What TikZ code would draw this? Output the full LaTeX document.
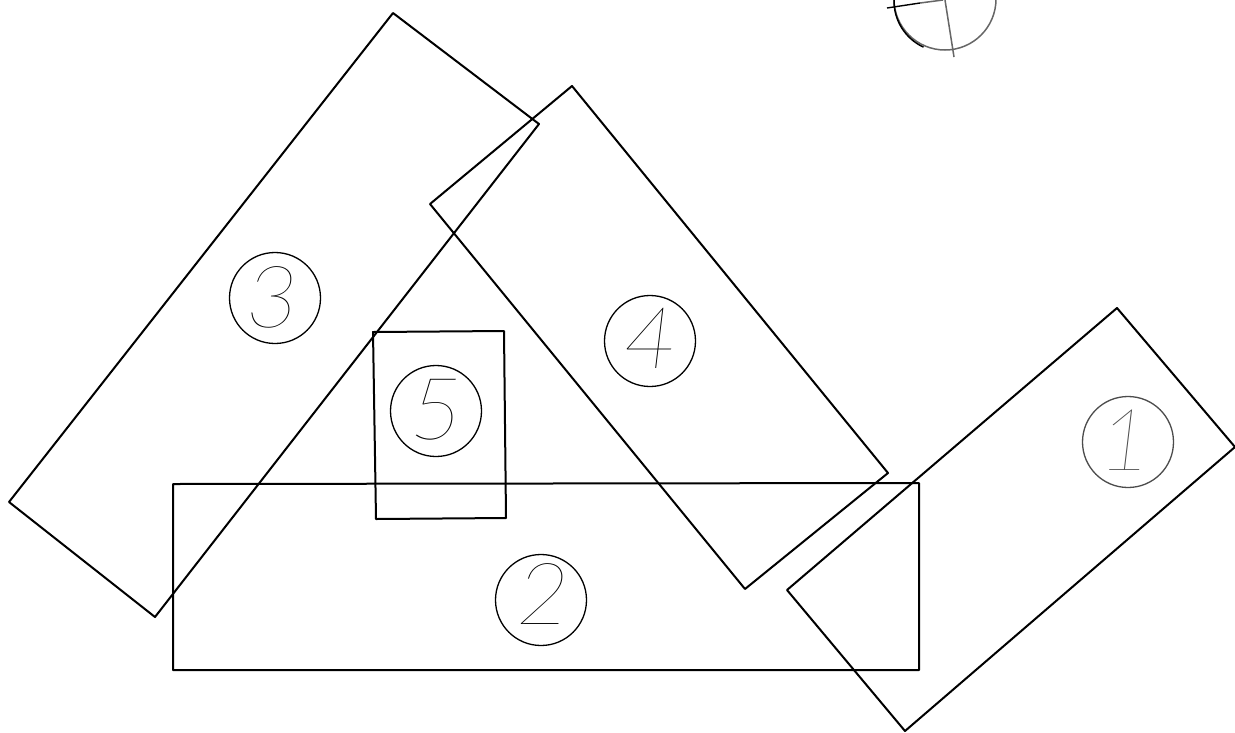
\documentclass[tikz,border=0pt]{standalone}
\usepackage{fontspec}
\newfontfamily\digitfont[FakeSlant=0.12]{Lato Thin}
\tikzset{
  plate/.style={draw=black,line width=2pt,line join=round},
  mark circle/.style={draw=black,circle,line width=1.3pt,minimum size=91pt,inner sep=0pt},
  digit/.style={inner sep=0pt,font=\digitfont\fontsize{86}{86}\selectfont,text=black},
  faded/.style={draw=black!60,line width=1.5pt}
}
\begin{document}
\begin{tikzpicture}[x=1pt,y=-1pt]
\useasboundingbox (0,0) rectangle (1235,732);
\fill[white] (0,0) rectangle (1235,732);
\draw[plate] (393,13) -- (539,124) -- (155,617) -- (9,502) -- cycle;
\draw[plate] (572,86) -- (888,473) -- (745,589) -- (430,204) -- cycle;
\draw[plate] (1117,308) -- (1235,447) -- (905,731) -- (787,590) -- cycle;
\draw[plate] (173,484) -- (919,483) -- (919,670) -- (173,670) -- cycle;
\draw[plate] (373,332) -- (504,331) -- (506,518) -- (376,519) -- cycle;
\node[mark circle] (n3) at (275,298) {};
\node[mark circle] (n5) at (436,411) {};
\node[mark circle] (n4) at (650,341) {};
\node[mark circle,draw=black!70] (n1) at (1128,442) {};
\node[mark circle] (n2) at (541,600) {};
\node[digit] (d3) at (269,297) {3};
\node[digit] (d5) at (433,410) {5};
\node[digit] (d4) at (647,338) {4};
\node[digit,text=black!70] (d1) at (1122,440) {1};
\node[digit] (d2) at (540,594) {2};
\coordinate (c) at (945,-1);
\coordinate (w) at (887,8);
\coordinate (e) at (943,0);
\coordinate (s) at (954,57);
\draw[faded] (c) circle[radius=51];
\draw[line width=1.5pt,black] (894,0) arc[start angle=181,end angle=115,radius=51];
\draw[line width=1.4pt,black] (w) -- (920,3);
\draw[faded] (920,3) -- (e);
\draw[faded] (945,0) -- (s);
\end{tikzpicture}
\end{document}
